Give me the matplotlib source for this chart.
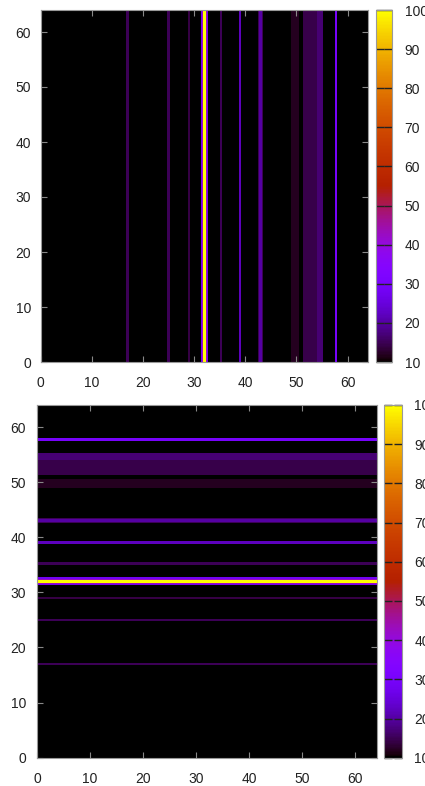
import numpy as np
import matplotlib
matplotlib.use("Agg")
from matplotlib import pyplot as plt

plt.rcParams['font.family'] = ['Liberation Sans', 'DejaVu Sans']
plt.rcParams['font.size'] = 10

# stripe profile along one axis (units of the 0..64 grid)
stripe_start = [16.75, 24.75, 28.75, 31.25, 31.5, 31.75, 32.25, 32.5, 35.0, 38.75,
                42.5, 42.75, 43.25, 49.0, 51.25, 54.0, 57.5]
stripe_end = [17.25, 25.25, 29.25, 31.5, 31.75, 32.25, 32.5, 32.75, 35.5, 39.25,
              42.75, 43.25, 43.5, 50.5, 54.0, 55.25, 58.0]
stripe_value = [15, 15, 14, 28, 43, 100, 43, 28, 15, 22,
                15, 20, 15, 12, 14.5, 17, 30]

grid_size = 64
samples_per_unit = 4
cb_ticks = [10, 20, 30, 40, 50, 60, 70, 80, 90, 100]
axis_ticks = [0, 10, 20, 30, 40, 50, 60]

profile = np.zeros(grid_size * samples_per_unit)
for s, e, v in zip(stripe_start, stripe_end, stripe_value):
    profile[int(round(s * samples_per_unit)):int(round(e * samples_per_unit))] = v
edges = np.linspace(0, grid_size, len(profile) + 1)

W, H = 425, 786
fig = plt.figure(figsize=(W / 100, H / 100), dpi=100)


def box(l, t, r, b):
    return [l / W, 1 - b / H, (r - l) / W, (b - t) / H]


def style_axes(ax, xpad, ypad):
    ax.set_xlim(0, grid_size)
    ax.set_ylim(0, grid_size)
    ax.set_xticks(axis_ticks)
    ax.set_yticks(axis_ticks)
    ax.tick_params(direction='in', top=True, right=True, length=4,
                   color='#888888', labelcolor='#222222')
    ax.tick_params(axis='x', pad=xpad)
    ax.tick_params(axis='y', pad=ypad)
    for sp in ax.spines.values():
        sp.set_color('#999999')


def style_cbar(cb, cax):
    cb.set_ticks(cb_ticks)
    cax.tick_params(direction='in', left=True, right=True, length=6, width=1,
                    color='#222222', labelcolor='#222222', pad=9)
    cb.outline.set_edgecolor('#999999')


# top panel: vertical stripes
ax1 = fig.add_axes(box(40.7, 10, 368, 362))
m1 = ax1.pcolormesh(edges, [0, grid_size], profile[np.newaxis, :],
                    cmap='gnuplot', vmin=10, vmax=100)
style_axes(ax1, 10, 7)
cax1 = fig.add_axes(box(375.7, 10, 392, 362))
cb1 = fig.colorbar(m1, cax=cax1)
style_cbar(cb1, cax1)

# bottom panel: same profile, horizontal stripes
ax2 = fig.add_axes(box(37, 405, 376.7, 757.7))
m2 = ax2.pcolormesh([0, grid_size], edges, profile[:, np.newaxis],
                    cmap='gnuplot', vmin=10, vmax=100)
style_axes(ax2, 10, 8)
cax2 = fig.add_axes(box(384, 405, 401.7, 757.7))
cb2 = fig.colorbar(m2, cax=cax2)
style_cbar(cb2, cax2)

fig.savefig("out.png", dpi=100)
